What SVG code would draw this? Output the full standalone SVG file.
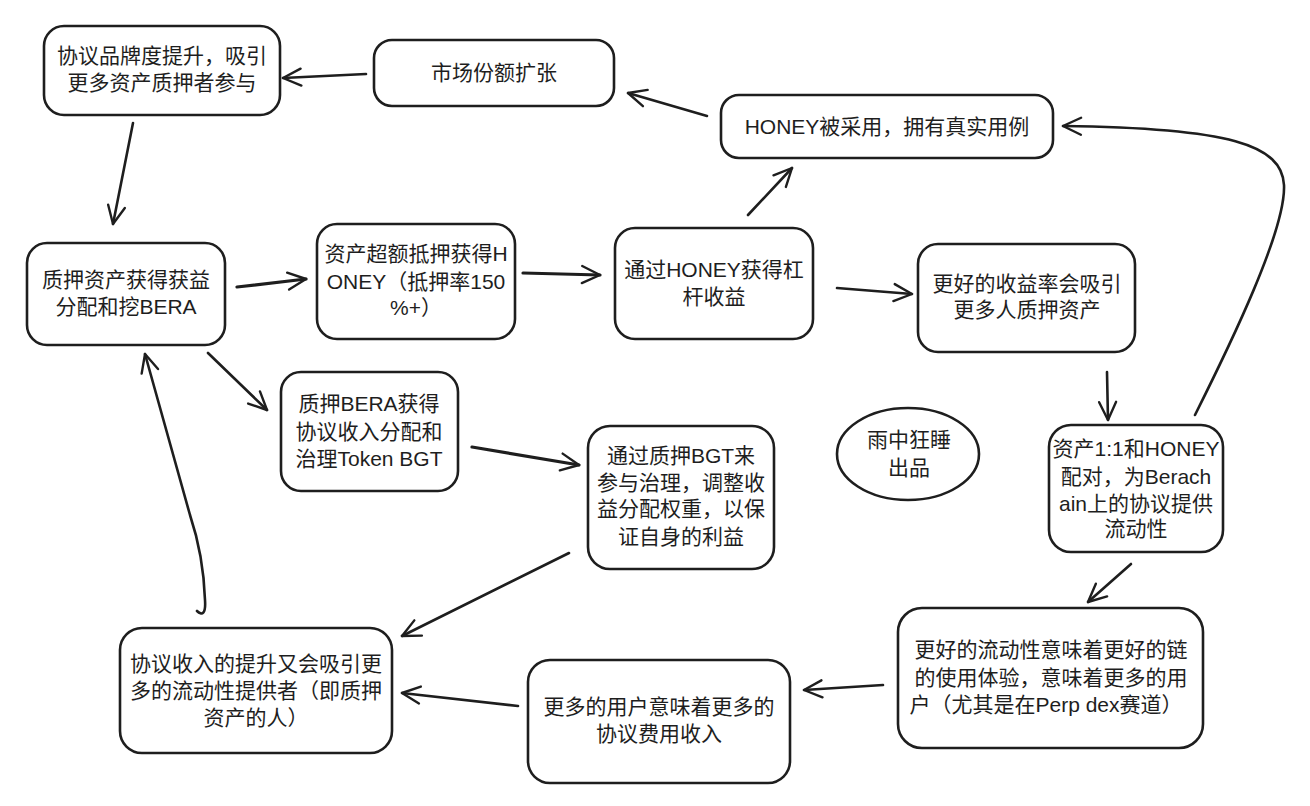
<svg xmlns="http://www.w3.org/2000/svg" width="1310" height="806" viewBox="0 0 1310 806">
<defs>
<style>
.box{fill:#fff;stroke:#1e1e1e;stroke-width:2.6}
.t{font-family:"Liberation Sans","Noto Sans CJK SC",sans-serif;font-size:21px;fill:#1e1e1e;text-anchor:middle;dominant-baseline:central}
.c{fill:none;stroke:#1e1e1e;stroke-width:2.6;stroke-linecap:round;stroke-linejoin:round}
</style>
<marker id="ah" viewBox="0 0 24 24" markerWidth="24" markerHeight="24" refX="21" refY="12" orient="auto" markerUnits="userSpaceOnUse" overflow="visible">
<path d="M3,3.5 L21,12 L3,20.5" fill="none" stroke="#1e1e1e" stroke-width="2.4" stroke-linecap="round" stroke-linejoin="round"/>
</marker>
</defs>
<rect width="1310" height="806" fill="#fff"/>

<g id="connectors">
<path class="c" d="M366,74 L283,78" marker-end="url(#ah)"/>
<path class="c" d="M707,116 L628,93" marker-end="url(#ah)"/>
<path class="c" d="M133,123 L113,224" marker-end="url(#ah)"/>
<path class="c" d="M237,287 L306,279" marker-end="url(#ah)" style="stroke-width:3.2"/>
<path class="c" d="M523,273 L600,275" marker-end="url(#ah)" style="stroke-width:3.2"/>
<path class="c" d="M748,215 L792,168" marker-end="url(#ah)"/>
<path class="c" d="M837,288 L912,294" marker-end="url(#ah)"/>
<path class="c" d="M1107,372 L1108,420" marker-end="url(#ah)"/>
<path class="c" d="M1195,415 C1230,345 1286,230 1284,185 C1282,145 1230,128 1063,126" marker-end="url(#ah)"/>
<path class="c" d="M1131,564 L1088,602" marker-end="url(#ah)"/>
<path class="c" d="M883,685 L804,690" marker-end="url(#ah)"/>
<path class="c" d="M518,706 L402,693" marker-end="url(#ah)"/>
<path class="c" d="M569,553 L402,636" marker-end="url(#ah)"/>
<path class="c" d="M472,447 L579,465" marker-end="url(#ah)" style="stroke-width:3.2"/>
<path class="c" d="M208,353 L267,410" marker-end="url(#ah)"/>
<path class="c" d="M197,611 C202,616 206,614 205,600 C204,570 200,545 190,515 L145,354" marker-end="url(#ah)"/>
</g>

<g id="n1"><rect class="box" x="44" y="26" width="236" height="89" rx="20"/>
<text class="t" x="162" y="55">协议品牌度提升，吸引</text>
<text class="t" x="162" y="82">更多资产质押者参与</text></g>

<g id="n2"><rect class="box" x="374" y="40" width="240" height="66" rx="18"/>
<text class="t" x="494" y="72">市场份额扩张</text></g>

<g id="n3"><rect class="box" x="721" y="95" width="332" height="63" rx="18"/>
<text class="t" x="887" y="126">HONEY被采用，拥有真实用例</text></g>

<g id="n4"><rect class="box" x="27" y="243" width="198" height="102" rx="20"/>
<text class="t" x="126" y="279">质押资产获得获益</text>
<text class="t" x="126" y="306">分配和挖BERA</text></g>

<g id="n5"><rect class="box" x="317" y="224" width="198" height="115" rx="20"/>
<text class="t" x="416" y="253">资产超额抵押获得H</text>
<text class="t" x="416" y="281">ONEY（抵押率150</text>
<text class="t" x="416" y="307">%+）</text></g>

<g id="n6"><rect class="box" x="615" y="228" width="198" height="111" rx="20"/>
<text class="t" x="714" y="269">通过HONEY获得杠</text>
<text class="t" x="714" y="296">杆收益</text></g>

<g id="n7"><rect class="box" x="918" y="244" width="217" height="108" rx="20"/>
<text class="t" x="1027" y="283">更好的收益率会吸引</text>
<text class="t" x="1027" y="309">更多人质押资产</text></g>

<g id="n8"><rect class="box" x="281" y="372" width="177" height="119" rx="20"/>
<text class="t" x="369" y="403">质押BERA获得</text>
<text class="t" x="369" y="431">协议收入分配和</text>
<text class="t" x="369" y="458">治理Token BGT</text></g>

<g id="n9"><rect class="box" x="588" y="426" width="186" height="143" rx="22"/>
<text class="t" x="681" y="455">通过质押BGT来</text>
<text class="t" x="681" y="482">参与治理，调整收</text>
<text class="t" x="681" y="508">益分配权重，以保</text>
<text class="t" x="681" y="536">证自身的利益</text></g>

<g id="n10"><ellipse class="box" cx="908" cy="454" rx="71" ry="46"/>
<text class="t" x="909" y="439">雨中狂睡</text>
<text class="t" x="909" y="467">出品</text></g>

<g id="n11"><rect class="box" x="1049" y="425" width="174" height="127" rx="22"/>
<text class="t" x="1136" y="448">资产1:1和HONEY</text>
<text class="t" x="1136" y="476">配对，为Berach</text>
<text class="t" x="1136" y="503">ain上的协议提供</text>
<text class="t" x="1136" y="528">流动性</text></g>

<g id="n12"><rect class="box" x="898" y="608" width="305" height="140" rx="24"/>
<text class="t" x="1051" y="649">更好的流动性意味着更好的链</text>
<text class="t" x="1051" y="677">的使用体验，意味着更多的用</text>
<text class="t" x="1046" y="704">户（尤其是在Perp dex赛道）</text></g>

<g id="n13"><rect class="box" x="528" y="660" width="262" height="123" rx="22"/>
<text class="t" x="659" y="706">更多的用户意味着更多的</text>
<text class="t" x="659" y="733">协议费用收入</text></g>

<g id="n14"><rect class="box" x="120" y="628" width="272" height="125" rx="22"/>
<text class="t" x="256" y="663">协议收入的提升又会吸引更</text>
<text class="t" x="256" y="690">多的流动性提供者（即质押</text>
<text class="t" x="256" y="717">资产的人）</text></g>
</svg>
